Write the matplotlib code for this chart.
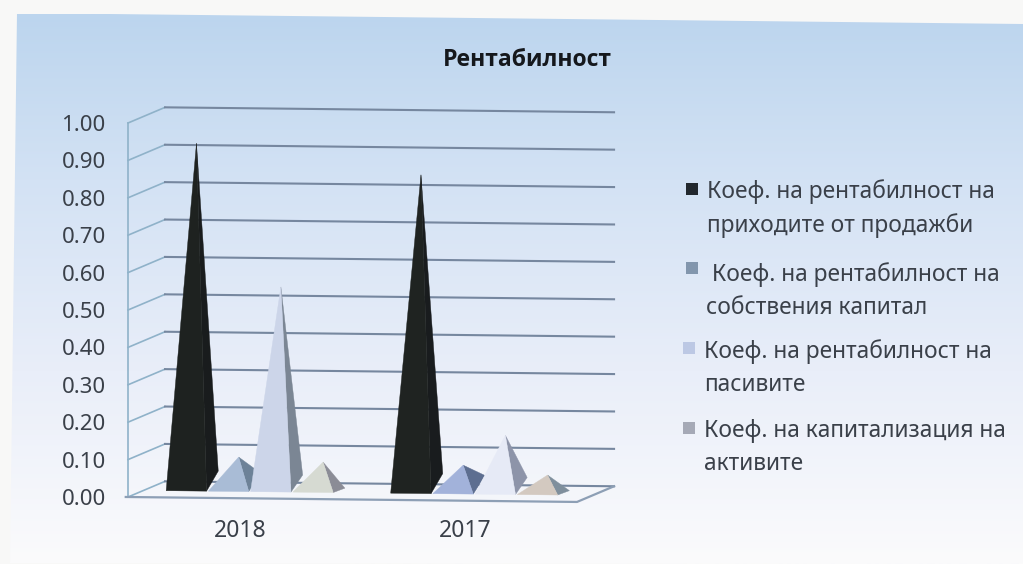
import numpy as np
import matplotlib
matplotlib.use('Agg')
import matplotlib.pyplot as plt
from matplotlib.colors import LinearSegmentedColormap
from matplotlib.patches import Polygon
from matplotlib.transforms import Affine2D

W, H = 1023, 564

years = ['2018', '2017']
y_ticks = [0.00, 0.10, 0.20, 0.30, 0.40, 0.50, 0.60, 0.70, 0.80, 0.90, 1.00]
title = 'Рентабилност'

# one list per series, in the order of the years
sales = [0.93, 0.852]
equity = [0.092, 0.077]
liabilities = [0.548, 0.158]
capitalisation = [0.081, 0.053]
series = [sales, equity, liabilities, capitalisation]

legend_labels = ['Коеф. на рентабилност на\nприходите от продажби',
                 ' Коеф. на рентабилност на\nсобствения капитал',
                 'Коеф. на рентабилност на\nпасивите',
                 'Коеф. на капитализация на\nактивите']
legend_colors = ['#22282e', '#8296ad', '#bcc8e4', '#a5a9b6']

# front and side colours of each pyramid, per series and year
front = [['#1e2220', '#1f2321'], ['#a9bcd6', '#a2b2da'],
         ['#ccd5e9', '#e6eaf6'], ['#d6dad2', '#d3c9c0']]
side = [['#191c1d', '#191c1e'], ['#6d8298', '#5d6e90'],
        ['#7b8694', '#8d94a9'], ['#8b8c96', '#7f8f9c']]
depth_y = [0.054, 0.05, 0.046, 0.012]

text_color = '#3a4049'
grid_color = '#76879f'
wall_color = '#8fb2c9'

plt.rcParams['font.family'] = ['Noto Sans', 'DejaVu Sans']


def px(x, y):
    # image pixel (top-left origin) to figure fraction
    return x / W, 1 - y / H


fig = plt.figure(figsize=(W / 100, H / 100), dpi=100, facecolor='#f8f8f7')

# blue to white background of the chart area, the sheet is slightly rotated
bg = fig.add_axes([0, 0, 1, 1], zorder=0)
cmap = LinearSegmentedColormap.from_list('bg', [(0, '#bcd5ee'), (0.3, '#d3e2f4'),
                                                (0.65, '#e9eef9'), (1, '#fbfbfc')])
im = bg.imshow(np.linspace(0, 1, 256)[:, None], aspect='auto', cmap=cmap, vmin=0, vmax=1,
               extent=[0, W, H, 14])
bg.set_xlim(0, W)
bg.set_ylim(H, 0)
sheet = Polygon([[17, 13], [W, 24], [W, H], [10, 563]], closed=True, transform=bg.transData,
                fc='none', ec='none')
bg.add_patch(sheet)
im.set_clip_path(sheet)
bg.axis('off')

ax = fig.add_axes([128 / W, 1 - 497 / H, 449 / W, 374 / H], zorder=1)
ax.patch.set_visible(False)
ax.set_xlim(-0.5, 1.5)
ax.set_ylim(0, 1)
for s in ax.spines.values():
    s.set_visible(False)

# the scanned page is a little tilted
tilted = ax.transData + Affine2D().skew(0, -0.011) + Affine2D().translate(0, 1.4)

back_dx, back_dy = 0.165, 0.043
for t in y_ticks:
    ax.plot([-0.5, -0.5 + back_dx], [t, t + back_dy], color=wall_color, lw=1.2,
            transform=tilted, clip_on=False, zorder=1)
    ax.plot([-0.5 + back_dx, 1.5 + back_dx], [t + back_dy, t + back_dy], color=grid_color,
            lw=1.5, transform=tilted, clip_on=False, zorder=1)
ax.plot([-0.5, -0.5], [0, 1], color=wall_color, lw=1.2, transform=tilted, clip_on=False, zorder=1)
ax.plot([-0.51, 1.5, 1.5 + back_dx], [0, 0, back_dy], color='#8d9fb5', lw=1.6,
        transform=tilted, clip_on=False, zorder=2)

# pyramids
base = 0.018
width = 0.18
apex_dx = 0.135
depth_x = 0.052
for i, values in enumerate(series):
    for j, v in enumerate(values):
        x0 = j - 0.33 + i * 0.188
        x1 = x0 + width
        apex_x = x0 + apex_dx
        ax.fill([x1, apex_x, x1 + depth_x], [base, base + v, base + depth_y[i]],
                fc=side[i][j], ec=side[i][j], lw=0.3, transform=tilted, clip_on=False, zorder=3 + i)
        ax.fill([x0, apex_x, x1], [base, base + v, base],
                fc=front[i][j], ec=front[i][j], lw=0.3, transform=tilted, clip_on=False, zorder=3 + i)

ax.set_yticks(y_ticks)
ax.set_yticklabels(['%.2f' % t for t in y_ticks], fontsize=16, color=text_color)
ax.set_xticks([0, 1])
ax.set_xticklabels(years, fontsize=16.5, color=text_color)
ax.tick_params(axis='y', length=0, pad=16)
ax.tick_params(axis='x', length=0, pad=16)

tx, ty = px(527, 60)
fig.text(tx, ty, title, fontsize=16.6, fontweight='bold', family='Open Sans', color='#15181c',
         ha='center', va='center')

# legend, written by hand because each marker sits on the first text line
legend_y = [193, 276, 353, 433]
legend_x = [707, 706, 704, 704]
marker_y = [189, 268, 348, 428]
marker_x = [692, 692, 689, 689]
for label, color, ly, lx, my, mx in zip(legend_labels, legend_colors, legend_y, legend_x, marker_y, marker_x):
    fx, fy = px(lx, ly - 14)
    fig.text(fx, fy, label, fontsize=16.4, color=text_color, ha='left', va='top', linespacing=1.5)
    fmx, fmy = px(mx, my)
    fig.add_artist(plt.Line2D([fmx], [fmy], marker='s', ms=9, mew=0, color=color, transform=fig.transFigure))

fig.savefig('out.png', dpi=100, facecolor=fig.get_facecolor())
